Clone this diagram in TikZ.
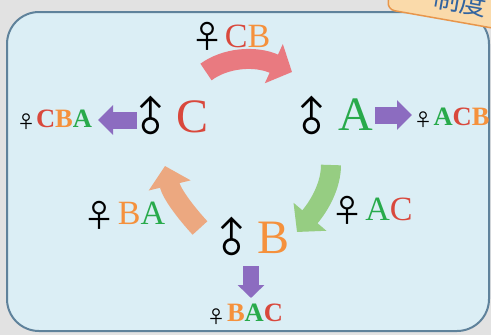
\documentclass[tikz,border=0pt]{standalone}
\usepackage{fontspec}
\setmainfont{Liberation Serif}
\newfontfamily\symfont{Noto Sans CJK SC}
\newfontfamily\cjkfont{Noto Sans CJK SC}
\usetikzlibrary{arrows.meta}
\definecolor{gred}{RGB}{217,72,60}
\definecolor{gorange}{RGB}{245,145,60}
\definecolor{ggreen}{RGB}{40,170,75}
\definecolor{bggray}{RGB}{226,226,226}
\definecolor{panelfill}{RGB}{219,238,245}
\definecolor{paneledge}{RGB}{95,130,155}
\definecolor{purp}{RGB}{140,108,192}
\definecolor{arrred}{RGB}{233,122,128}
\definecolor{arrgreen}{RGB}{150,205,130}
\definecolor{arrorange}{RGB}{236,168,128}
\definecolor{tabfill}{RGB}{250,218,170}
\definecolor{tabedge}{RGB}{232,150,75}
\definecolor{tabtext}{RGB}{50,100,160}
\newcommand{\gR}{\textcolor{gred}}
\newcommand{\gO}{\textcolor{gorange}}
\newcommand{\gG}{\textcolor{ggreen}}
\begin{document}
\begin{tikzpicture}[x=1pt,y=-1pt,
  every node/.style={inner sep=0pt},
  male/.style={font=\symfont\fontsize{40}{40}\selectfont,rotate=45},
  female/.style={font=\symfont\fontsize{32}{32}\selectfont},
  femalesmall/.style={font=\symfont\fontsize{18}{18}\selectfont},
  big/.style={font=\fontsize{48}{48}\selectfont},
  mid/.style={font=\fontsize{34}{34}\selectfont},
  small/.style={font=\bfseries\fontsize{26.5}{26.5}\selectfont},
  bend arrow/.style={line width=20pt,-{Triangle[width=42pt,length=20pt]}},
  purplearrow/.style={draw=purp,line width=17pt,-{Triangle[width=29pt,length=15pt]}}]
\useasboundingbox (0,0) rectangle (491,335);
\clip (0,0) rectangle (491,335);
\fill[bggray] (0,0) rectangle (491,335);
\draw[paneledge,line width=2pt,fill=panelfill,rounded corners=32pt] (7,12) rectangle (489,331);
\node[draw=tabedge,line width=1.5pt,fill=tabfill,rounded corners=8pt,rotate=-10,
  anchor=south west,minimum width=142pt,minimum height=40pt,
  font=\cjkfont\fontsize{27}{27}\selectfont,text=tabtext] (tab) at (386,10) {\raisebox{4pt}{制度}};
% generations
\node[female] (fCB) at (207.5,36.5) {♀};
\node[mid] (CB) at (247.5,36) {\gR{C}\gO{B}};
\node[male] (mC) at (151.5,117) {♂};
\node[big,text=gred] (C) at (192.5,116.5) {C};
\node[femalesmall] (fCBA) at (26,121.5) {♀};
\node[small] (CBA) at (64,119) {\gR{C}\gO{B}\gG{A}};
\node[male] (mA) at (312.5,117) {♂};
\node[big,text=ggreen] (A) at (355.5,115) {A};
\node[femalesmall] (fACB) at (423.5,119.5) {♀};
\node[small] (ACB) at (461.5,116.5) {\gG{A}\gR{C}\gO{B}};
\node[female] (fBA) at (99.5,215) {♀};
\node[mid] (BA) at (141.5,213.5) {\gO{B}\gG{A}};
\node[female] (fAC) at (347,210.5) {♀};
\node[mid] (AC) at (389,209.5) {\gG{A}\gR{C}};
\node[male] (mB) at (232.5,238) {♂};
\node[big,text=gorange] (B) at (274,237.5) {B};
\node[femalesmall] (fBAC) at (216.5,317) {♀};
\node[small] (BAC) at (255,313) {\gO{B}\gG{A}\gR{C}};
% arrows
\coordinate (redS) at (206,72);
\coordinate (redE) at (292,72);
\coordinate (greenS) at (331,165);
\coordinate (greenE) at (297,232);
\coordinate (orangeS) at (200,228);
\coordinate (orangeE) at (165,166);
\draw[bend arrow,arrred] (redS) .. controls (225,58) and (255,55) .. (redE);
\draw[bend arrow,arrgreen] (greenS) .. controls (331,185) and (320,205) .. (greenE);
\draw[bend arrow,arrorange] (orangeS) .. controls (188,215) and (172,195) .. (orangeE);
\coordinate (leftS) at (137,120);
\coordinate (leftE) at (98,120);
\coordinate (rightS) at (375,115);
\coordinate (rightE) at (412,115);
\coordinate (downS) at (251,266);
\coordinate (downE) at (251,298);
\draw[purplearrow] (leftS) -- (leftE);
\draw[purplearrow] (rightS) -- (rightE);
\draw[purplearrow,line width=16pt,-{Triangle[width=26pt,length=13pt]}] (downS) -- (downE);
\end{tikzpicture}
\end{document}
